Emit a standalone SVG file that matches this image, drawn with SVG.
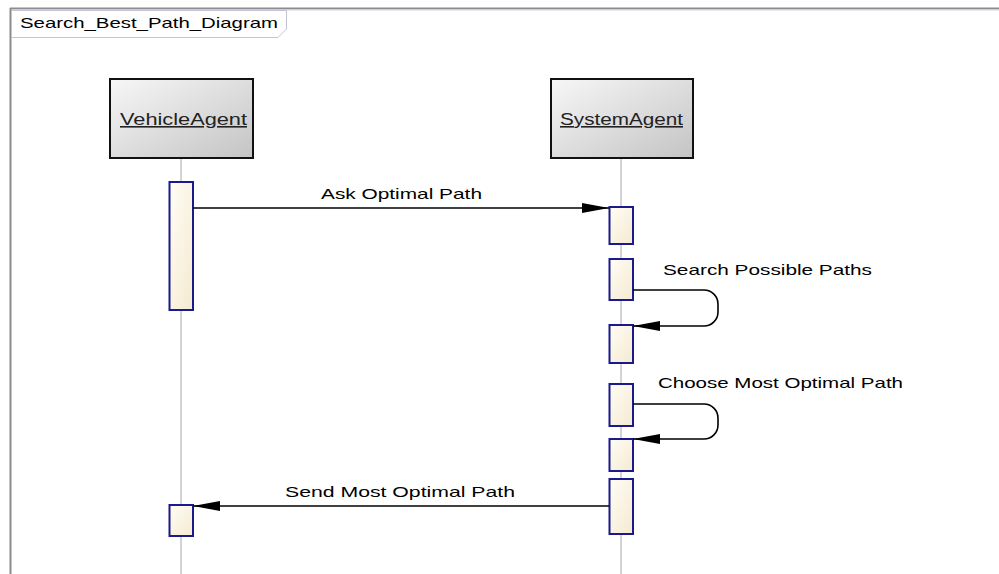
<svg xmlns="http://www.w3.org/2000/svg" width="999" height="574" viewBox="0 0 999 574">
  <defs>
    <linearGradient id="headFill" x1="0" y1="0" x2="1" y2="1">
      <stop offset="0" stop-color="#f7f7f7"/>
      <stop offset="1" stop-color="#c4c4c4"/>
    </linearGradient>
    <linearGradient id="actFill" x1="0" y1="0" x2="1" y2="1">
      <stop offset="0" stop-color="#fffdf6"/>
      <stop offset="1" stop-color="#f5ead0"/>
    </linearGradient>
    <marker id="arrow" viewBox="0 0 27 10" refX="27" refY="5" markerWidth="27" markerHeight="10" markerUnits="userSpaceOnUse" orient="auto">
      <path d="M0,0 L27,5 L0,10 Z" fill="#000"/>
    </marker>
  </defs>
  <style>
    .label { font-family: "Liberation Sans", Arial, sans-serif; font-size: 15px; fill: #000; }
    .head { fill: url(#headFill); stroke: #111; stroke-width: 2; }
    .act { fill: url(#actFill); stroke: #1a1a8c; stroke-width: 2; }
    .life { stroke: #a8a8a8; stroke-width: 1; fill: none; }
    .msg { stroke: #000; stroke-width: 1.6; fill: none; marker-end: url(#arrow); }
    .name { font-family: "Liberation Sans", Arial, sans-serif; font-size: 16px; fill: #222; text-decoration: underline; }
  </style>

  <rect width="999" height="574" fill="#fff"/>

  <!-- frame -->
  <g id="frame">
    <line x1="10" y1="8.5" x2="999" y2="8.5" stroke="#8c8c8c" stroke-width="2"/>
    <line x1="10" y1="10" x2="999" y2="10" stroke="#d4d4e4" stroke-width="1"/>
    <line x1="10.5" y1="8" x2="10.5" y2="574" stroke="#8c8c8c" stroke-width="2"/>
    <path d="M12,10.5 H286.5 V29 L278,37.5 H12" fill="#fff" stroke="#c4c4d8" stroke-width="1"/>
    <text class="label" x="20" y="28" textLength="258" lengthAdjust="spacingAndGlyphs">Search_Best_Path_Diagram</text>
  </g>

  <!-- lifelines -->
  <g id="lifelines">
    <line class="life" x1="181" y1="158" x2="181" y2="574"/>
    <line class="life" x1="621" y1="158" x2="621" y2="574"/>
  </g>

  <g id="VehicleAgent">
    <rect class="head" x="110" y="79" width="143" height="79"/>
    <text class="name" x="120" y="125" textLength="127" lengthAdjust="spacingAndGlyphs">VehicleAgent</text>
  </g>

  <g id="SystemAgent">
    <rect class="head" x="551" y="79" width="142" height="79"/>
    <text class="name" x="560" y="125" textLength="123" lengthAdjust="spacingAndGlyphs">SystemAgent</text>
  </g>

  <!-- activations -->
  <g id="VehicleAgent_activations">
    <rect class="act" x="169.5" y="182" width="23.5" height="128"/>
    <rect class="act" x="169.5" y="505" width="23.5" height="31"/>
  </g>
  <g id="SystemAgent_activations">
    <rect class="act" x="609.5" y="207" width="23.5" height="37"/>
    <rect class="act" x="609.5" y="259" width="23.5" height="41"/>
    <rect class="act" x="609.5" y="325" width="23.5" height="38"/>
    <rect class="act" x="609.5" y="384" width="23.5" height="42"/>
    <rect class="act" x="609.5" y="439" width="23.5" height="32"/>
    <rect class="act" x="609.5" y="479" width="23.5" height="55"/>
  </g>

  <!-- messages -->
  <g id="connectors">
    <line class="msg" x1="193" y1="208" x2="609" y2="208"/>
    <path class="msg" d="M633,290 H704 A14,14 0 0 1 718,304 V312 A14,14 0 0 1 704,326 H633"/>
    <path class="msg" d="M633,404 H704 A14,14 0 0 1 718,418 V425 A14,14 0 0 1 704,439 H633"/>
    <line class="msg" x1="609" y1="506" x2="193" y2="506"/>
  </g>

  <g id="message_labels">
    <text class="label" x="321" y="199" textLength="161" lengthAdjust="spacingAndGlyphs">Ask Optimal Path</text>
    <text class="label" x="663" y="275" textLength="209" lengthAdjust="spacingAndGlyphs">Search Possible Paths</text>
    <text class="label" x="658" y="388" textLength="245" lengthAdjust="spacingAndGlyphs">Choose Most Optimal Path</text>
    <text class="label" x="285" y="497" textLength="230" lengthAdjust="spacingAndGlyphs">Send Most Optimal Path</text>
  </g>
</svg>
